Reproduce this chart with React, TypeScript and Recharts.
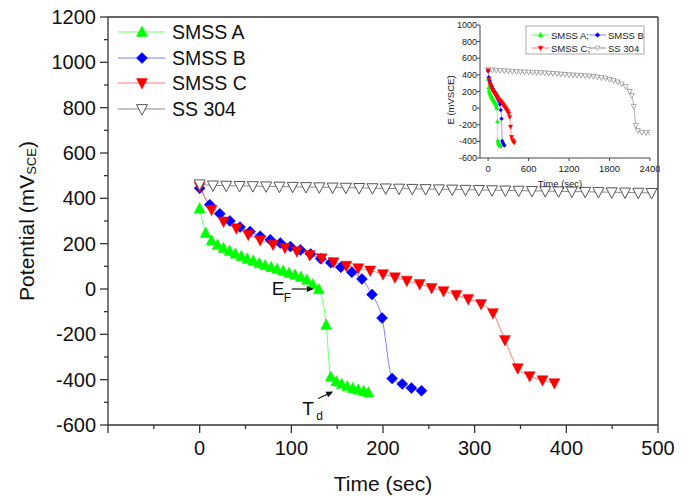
import React from "react";
import { LineChart, Line, XAxis, YAxis, ReferenceLine, ReferenceDot } from "recharts";

// main panel data (time in sec, potential in mV_SCE)
const aTime = [0, 6.5, 13, 19.5, 26, 32.5, 39, 45.5, 52, 58.5, 65, 71.5, 78, 84.5, 91, 97.5, 104, 110.5, 117, 123.5, 130, 138, 143, 149, 155, 161, 167, 173, 179, 184];
const aPot = [355, 247, 213, 194, 180, 167, 155, 144, 133, 124, 113, 104, 96, 88, 80, 70, 62, 53, 40, 20, -2, -159, -388, -408, -420, -430, -438, -445, -451, -457];

const bTime = [0, 11, 22, 33, 44, 55, 66, 77, 88, 99, 110, 121, 132, 143, 154, 166, 177, 188, 199, 210, 221, 231, 242];
const bPot = [445, 372, 332, 300, 273, 254, 233, 217, 203, 187, 172, 154, 134, 116, 96, 74, 44, -24, -128, -395, -419, -437, -449];

const cTime = [0, 13, 26, 40, 53, 66, 80, 93, 106, 120, 133, 146, 160, 173, 186, 200, 213, 226, 240, 253, 266, 280, 293, 307, 320, 333, 347, 360, 374, 387];
const cPot = [452, 350, 298, 268, 240, 216, 196, 182, 167, 150, 136, 119, 103, 92, 82, 66, 52, 37, 22, 5, -9, -26, -44, -66, -106, -225, -349, -384, -402, -415];

const ssTime = [0, 14.5, 29, 43.5, 58, 72.5, 87, 101.5, 116, 130.5, 145, 159.5, 174, 188.5, 203, 217.5, 232, 246.5, 261, 275.5, 290, 304.5, 319, 333.5, 348, 362.5, 377, 391.5, 406, 420.5, 435, 449.5, 464, 478.5, 493];
const ssPot = [462, 457, 456, 455, 454, 453, 452, 451, 450, 449, 448, 447, 446, 445, 444, 443, 442, 441, 440, 439, 438, 437, 436, 435, 434, 433, 432, 431, 430, 429, 428, 427, 426, 425, 424];

// inset: SS 304 over the full 2400 s run
const ssLongTime = [0, 60, 120, 180, 240, 300, 360, 420, 480, 540, 600, 660, 720, 780, 840, 900, 960, 1020, 1080, 1140, 1200, 1260, 1320, 1380, 1440, 1500, 1560, 1620, 1680, 1740, 1800, 1860, 1920, 1980, 2040, 2100, 2130, 2160, 2190, 2220, 2280, 2340, 2400];
const ssLongPot = [462, 458, 455, 451, 448, 445, 442, 439, 436, 434, 432, 430, 428, 426, 423, 420, 417, 413, 409, 405, 401, 398, 395, 392, 389, 386, 381, 375, 367, 360, 345, 330, 314, 290, 260, 200, 150, 20, -210, -270, -292, -296, -296];

const mainXTicks = [-100, -50, 0, 50, 100, 150, 200, 250, 300, 350, 400, 450, 500];
const mainYTicks = [-600, -500, -400, -300, -200, -100, 0, 100, 200, 300, 400, 500, 600, 700, 800, 900, 1000, 1100, 1200];
const insetXTicks = [0, 600, 1200, 1800, 2400];
const insetYTicks = [-600, -400, -200, 0, 200, 400, 600, 800, 1000];

const FONT = '"Liberation Sans", Arial, Helvetica, sans-serif';
const AXIS = "#333";

const zip = (t: number[], v: number[]) => t.map((time, i) => ({ time, v: v[i] }));

type Kind = "up" | "diamond" | "down";

function pts(kind: Kind, cx: number, cy: number, s: number) {
  if (kind === "up") return `${cx},${cy - 0.55 * s} ${cx - s / 2},${cy + 0.4 * s} ${cx + s / 2},${cy + 0.4 * s}`;
  if (kind === "down") return `${cx},${cy + 0.55 * s} ${cx - s / 2},${cy - 0.4 * s} ${cx + s / 2},${cy - 0.4 * s}`;
  return `${cx},${cy - s / 2} ${cx + s / 2},${cy} ${cx},${cy + s / 2} ${cx - s / 2},${cy}`;
}

const dot = (kind: Kind, size: number, fill: string, stroke: string, sw: number) => (props: any) => {
  const { cx, cy, index } = props;
  if (cx == null || cy == null) return <g key={`n${index}`} />;
  return <polygon key={`m${index}`} points={pts(kind, cx, cy, size)} fill={fill} stroke={stroke} strokeWidth={sw} />;
};

const series = [
  { name: "SMSS A", kind: "up" as Kind, line: "#6dff6d", fill: "#00ff00", stroke: "#00ff00", time: aTime, pot: aPot },
  { name: "SMSS B", kind: "diamond" as Kind, line: "#7f7fff", fill: "#0000ff", stroke: "#0000ff", time: bTime, pot: bPot },
  { name: "SMSS C", kind: "down" as Kind, line: "#ff7a7a", fill: "#ff0000", stroke: "#ff0000", time: cTime, pot: cPot },
  { name: "SS 304", kind: "down" as Kind, line: "#8a8a8a", fill: "#ffffff", stroke: "#555555", time: ssTime, pot: ssPot },
];

const MainYTick = (props: any) => {
  const { x, y, payload } = props;
  const v = payload.value;
  const major = v % 200 === 0;
  return (
    <g>
      <line x1={x - (major ? 8 : 4)} x2={x} y1={y} y2={y} stroke={AXIS} strokeWidth={1.3} />
      {major && (
        <text x={x - 12} y={y} textAnchor="end" dominantBaseline="central" fontSize={20} fontFamily={FONT} fill="#111">
          {v}
        </text>
      )}
    </g>
  );
};

const MainXTick = (props: any) => {
  const { x, y, payload } = props;
  const v = payload.value;
  const major = v % 100 === 0;
  return (
    <g>
      <line x1={x} x2={x} y1={y} y2={y + (major ? 8 : 4)} stroke={AXIS} strokeWidth={1.3} />
      {major && v >= 0 && (
        <text x={x} y={y + 23} textAnchor="middle" dominantBaseline="central" fontSize={20} fontFamily={FONT} fill="#111">
          {v}
        </text>
      )}
    </g>
  );
};

const InsetYTick = (props: any) => {
  const { x, y, payload } = props;
  return (
    <g>
      <line x1={x - 3} x2={x} y1={y} y2={y} stroke="#444" strokeWidth={1} />
      <text x={x - 3} y={y} textAnchor="end" dominantBaseline="central" fontSize={9} fontFamily={FONT} fill="#222">
        {payload.value}
      </text>
    </g>
  );
};

const InsetXTick = (props: any) => {
  const { x, y, payload } = props;
  return (
    <g>
      <line x1={x} x2={x} y1={y} y2={y + 3} stroke="#444" strokeWidth={1} />
      <text x={x} y={y + 10} textAnchor="middle" dominantBaseline="central" fontSize={9.5} fontFamily={FONT} fill="#222">
        {payload.value}
      </text>
    </g>
  );
};

const Arrow = ({ x1, y1, x2, y2 }: { x1: number; y1: number; x2: number; y2: number }) => {
  const a = Math.atan2(y2 - y1, x2 - x1);
  const L = 7;
  const W = 3;
  const bx = x2 - L * Math.cos(a);
  const by = y2 - L * Math.sin(a);
  const px = -Math.sin(a) * W;
  const py = Math.cos(a) * W;
  return (
    <g>
      <line x1={x1} y1={y1} x2={bx} y2={by} stroke="#111" strokeWidth={1.2} />
      <polygon points={`${x2},${y2} ${bx + px},${by + py} ${bx - px},${by - py}`} fill="#111" />
    </g>
  );
};

const EfMark = (props: any) => {
  const { cx, cy } = props;
  return (
    <g fontFamily={FONT} fill="#111">
      <text x={cx - 47} y={cy + 6} fontSize={19}>E</text>
      <text x={cx - 35} y={cy + 13} fontSize={12}>F</text>
      <Arrow x1={cx - 27} y1={cy} x2={cx - 5} y2={cy} />
    </g>
  );
};

const TdMark = (props: any) => {
  const { cx, cy } = props;
  return (
    <g fontFamily={FONT} fill="#111">
      <text x={cx - 34} y={cy + 34} fontSize={19}>T</text>
      <text x={cx - 20} y={cy + 39} fontSize={12}>d</text>
      <Arrow x1={cx - 18} y1={cy + 17} x2={cx - 3} y2={cy + 10} />
    </g>
  );
};

function MainChart() {
  return (
    <LineChart width={690} height={498} margin={{ top: 17, right: 32, bottom: 0, left: 48 }}>
      <XAxis
        type="number"
        dataKey="time"
        domain={[-100, 500]}
        ticks={mainXTicks}
        interval={0}
        tickSize={0}
        tickMargin={0}
        tickLine={false}
        tick={<MainXTick />}
        height={73}
        allowDataOverflow
        axisLine={{ stroke: AXIS, strokeWidth: 1.3 }}
        label={{
          content: (p: any) => (
            <text x={p.viewBox.x + p.viewBox.width / 2} y={p.viewBox.y + 58} textAnchor="middle" dominantBaseline="central" fontSize={21} fontFamily={FONT} fill="#111">
              Time (sec)
            </text>
          ),
        }}
      />
      <YAxis
        type="number"
        dataKey="v"
        domain={[-600, 1200]}
        ticks={mainYTicks}
        interval={0}
        tickSize={0}
        tickMargin={0}
        tickLine={false}
        tick={<MainYTick />}
        width={60}
        allowDataOverflow
        axisLine={{ stroke: AXIS, strokeWidth: 1.3 }}
        label={{
          content: (p: any) => {
            const x = p.viewBox.x - 22;
            const y = p.viewBox.y + p.viewBox.height / 2;
            return (
              <text x={x} y={y} transform={`rotate(-90, ${x}, ${y})`} textAnchor="middle" dominantBaseline="central" fontSize={21} fontFamily={FONT} fill="#111">
                Potential (mV<tspan fontSize={13} dy={5}>SCE</tspan>
                <tspan dy={-5}>)</tspan>
              </text>
            );
          },
        }}
      />
      <ReferenceLine y={1200} stroke={AXIS} strokeWidth={1.3} />
      <ReferenceLine x={500} stroke={AXIS} strokeWidth={1.3} />
      {series.map((s) => (
        <Line
          key={s.name}
          data={zip(s.time, s.pot)}
          dataKey="v"
          type="monotone"
          stroke={s.line}
          strokeWidth={1}
          dot={dot(s.kind, s.name === "SS 304" ? 11 : 11, s.fill, s.stroke, s.name === "SS 304" ? 1 : 0.5)}
          activeDot={false}
          isAnimationActive={false}
        />
      ))}
      <ReferenceDot x={130} y={0} r={0} shape={EfMark} />
      <ReferenceDot x={149} y={-408} r={0} shape={TdMark} />
    </LineChart>
  );
}

function InsetChart() {
  const insetSeries = [
    { ...series[3], time: ssLongTime, pot: ssLongPot, fill: "#ffffff", stroke: "#888", line: "#999", size: 5 },
    { ...series[0], size: 4 },
    { ...series[1], size: 4 },
    { ...series[2], size: 4.5 },
  ];
  return (
    <LineChart width={220} height={190} margin={{ top: 15, right: 10, bottom: 0, left: 0 }}>
      <XAxis
        type="number"
        dataKey="time"
        domain={[-120, 2400]}
        ticks={insetXTicks}
        interval={0}
        tickSize={0}
        tickMargin={0}
        tickLine={false}
        tick={<InsetXTick />}
        height={42}
        allowDataOverflow
        axisLine={{ stroke: "#444", strokeWidth: 1 }}
        label={{
          content: (p: any) => (
            <text x={p.viewBox.x + p.viewBox.width / 2 - 5} y={p.viewBox.y + 25} textAnchor="middle" dominantBaseline="central" fontSize={9.5} fontFamily={FONT} fill="#222">
              Time (sec)
            </text>
          ),
        }}
      />
      <YAxis
        type="number"
        dataKey="v"
        domain={[-600, 1000]}
        ticks={insetYTicks}
        interval={0}
        tickSize={0}
        tickMargin={0}
        tickLine={false}
        tick={<InsetYTick />}
        width={40}
        allowDataOverflow
        axisLine={{ stroke: "#444", strokeWidth: 1 }}
        label={{
          content: (p: any) => {
            const x = p.viewBox.x + 10;
            const y = p.viewBox.y + 75;
            return (
              <text x={x} y={y} transform={`rotate(-90, ${x}, ${y})`} textAnchor="middle" dominantBaseline="central" fontSize={9.5} fontFamily={FONT} fill="#222">
                E (mVSCE)
              </text>
            );
          },
        }}
      />
      {insetSeries.map((s) => (
        <Line
          key={s.name}
          data={zip(s.time, s.pot)}
          dataKey="v"
          type="monotone"
          stroke={s.line}
          strokeWidth={0.8}
          dot={dot(s.kind, s.size, s.fill, s.stroke, s.name === "SS 304" ? 0.7 : 0.3)}
          activeDot={false}
          isAnimationActive={false}
        />
      ))}
    </LineChart>
  );
}

function Legends() {
  const rows = [32, 58, 83, 109];
  const small = [
    { x: 532, y: 35, label: "SMSS A;" },
    { x: 589, y: 35, label: "SMSS B" },
    { x: 532, y: 48, label: "SMSS C;" },
    { x: 589, y: 48, label: "SS 304" },
  ];
  return (
    <svg width={690} height={498} style={{ position: "absolute", left: 0, top: 0, pointerEvents: "none" }}>
      {series.map((s, i) => (
        <g key={s.name}>
          <line x1={118} x2={165} y1={rows[i]} y2={rows[i]} stroke={s.line} strokeWidth={1.2} />
          <polygon points={pts(s.kind, 142, rows[i], 11)} fill={s.fill} stroke={s.stroke} strokeWidth={s.name === "SS 304" ? 1 : 0.5} />
          <text x={172} y={rows[i]} dominantBaseline="central" fontSize={19.5} fontFamily={FONT} fill="#111">
            {s.name}
          </text>
        </g>
      ))}
      <rect x={526} y={26} width={118} height={28} fill="#fff" stroke="#aaa" strokeWidth={1} />
      {series.map((s, i) => (
        <g key={`i${s.name}`}>
          <line x1={small[i].x} x2={small[i].x + 17} y1={small[i].y} y2={small[i].y} stroke={s.line} strokeWidth={1} />
          <polygon points={pts(s.kind, small[i].x + 8.5, small[i].y, 4.5)} fill={s.fill} stroke={s.name === "SS 304" ? "#888" : s.stroke} strokeWidth={0.6} />
          <text x={small[i].x + 19} y={small[i].y} dominantBaseline="central" fontSize={9.5} fontFamily={FONT} fill="#222">
            {small[i].label}
          </text>
        </g>
      ))}
    </svg>
  );
}

export default function App() {
  return (
    <div style={{ position: "absolute", left: 0, top: 0, width: 690, height: 498, background: "#fff", fontFamily: FONT }}>
      <MainChart />
      <div style={{ position: "absolute", left: 440, top: 10 }}>
        <InsetChart />
      </div>
      <Legends />
    </div>
  );
}
